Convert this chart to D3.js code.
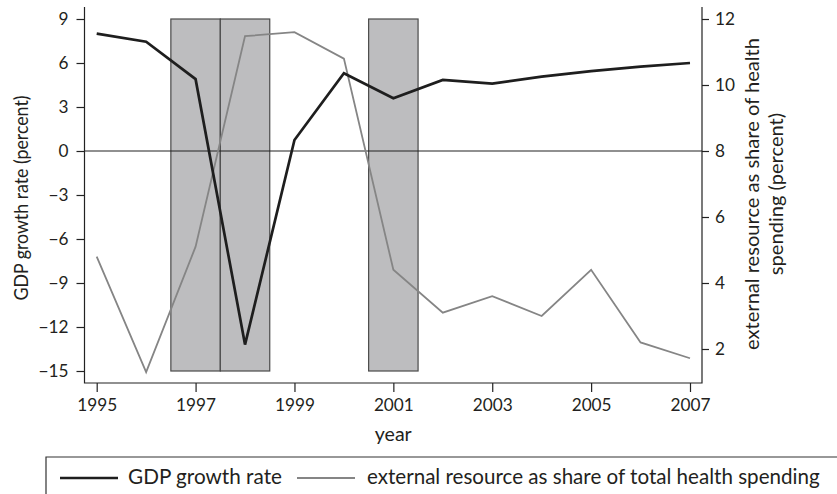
<!DOCTYPE html>
<html>
<head>
<meta charset="utf-8">
<script src="https://cdn.jsdelivr.net/npm/d3@7"></script>
<style>
  body { margin: 0; background: #fff; }
  svg text { font-family: "Lato", "Open Sans", sans-serif; fill: #231f20; }
</style>
</head>
<body>
<svg id="chart" width="837" height="494"></svg>
<script>
const years = [1995, 1996, 1997, 1998, 1999, 2000, 2001, 2002, 2003, 2004, 2005, 2006, 2007];
const gdpGrowth = [8.0, 7.45, 4.9, -13.2, 0.75, 5.3, 3.6, 4.85, 4.6, 5.07, 5.45, 5.75, 6.0];
const externalShare = [4.8, 1.3, 5.1, 11.48, 11.6, 10.8, 4.4, 3.1, 3.6, 3.0, 4.4, 2.2, 1.72];
const shadedPeriods = [[1996.5, 1997.5], [1997.5, 1998.5], [2000.5, 2001.5]];
const xTicks = [1995, 1997, 1999, 2001, 2003, 2005, 2007];
const leftTicks = [-15, -12, -9, -6, -3, 0, 3, 6, 9];
const rightTicks = [2, 4, 6, 8, 10, 12];
const legendLabels = ["GDP growth rate", "external resource as share of total health spending"];

const svg = d3.select("#chart");

// plot frame (axis lines run a bit past the data range)
const AX_LEFT = 84.5, AX_RIGHT = 702, AX_TOP = 7, AX_BOTTOM = 383;

const x = d3.scaleLinear().domain([1995, 2007]).range([96.7, 690]);
const yLeft = d3.scaleLinear().domain([-15, 9]).range([371, 19]);
const yRight = d3.scaleLinear().domain([4 / 3, 12]).range([371, 19]);

// size a text so its width matches the one measured on the reference
function fitFont(sel, target) {
  sel.style("font-size", "20px");
  const len = sel.node().getComputedTextLength();
  const size = (20 * target) / len;
  sel.style("font-size", size + "px");
  return size;
}

// shaded rectangles
svg.append("g")
  .selectAll("rect")
  .data(shadedPeriods)
  .enter()
  .append("rect")
  .attr("x", (d) => x(d[0]))
  .attr("width", (d) => x(d[1]) - x(d[0]))
  .attr("y", yLeft(9))
  .attr("height", yLeft(-15) - yLeft(9))
  .attr("fill", "#bdbdbf")
  .attr("stroke", "#4a4a4a")
  .attr("stroke-width", 1.2);

// zero line
svg.append("line")
  .attr("x1", AX_LEFT).attr("x2", AX_RIGHT)
  .attr("y1", yLeft(0)).attr("y2", yLeft(0))
  .attr("stroke", "#222").attr("stroke-width", 1.2);

// series lines
const extLine = d3.line().x((d, i) => x(years[i])).y((d) => yRight(d));
svg.append("path")
  .datum(externalShare)
  .attr("d", extLine)
  .attr("fill", "none")
  .attr("stroke", "#858585")
  .attr("stroke-width", 1.8);

const gdpLine = d3.line().x((d, i) => x(years[i])).y((d) => yLeft(d));
svg.append("path")
  .datum(gdpGrowth)
  .attr("d", gdpLine)
  .attr("fill", "none")
  .attr("stroke", "#1e1e1e")
  .attr("stroke-width", 2.7);

// axes
const probe = svg.append("text").text("1995");
const tickSize = fitFont(probe, 40);
probe.remove();

function styleAxis(g) {
  g.select(".domain").remove();
  g.selectAll(".tick line").attr("stroke", "#222").attr("stroke-width", 1.2);
  g.selectAll(".tick text").style("font-size", tickSize + "px").attr("fill", "#231f20");
}

svg.append("g")
  .attr("transform", `translate(0,${AX_BOTTOM})`)
  .call(d3.axisBottom(x).tickValues(xTicks).tickFormat(d3.format("d")).tickSize(9).tickPadding(7))
  .call(styleAxis);

svg.append("g")
  .attr("transform", `translate(${AX_LEFT},0)`)
  .call(d3.axisLeft(yLeft).tickValues(leftTicks).tickSize(8).tickPadding(8))
  .call(styleAxis);

svg.append("g")
  .attr("transform", `translate(${AX_RIGHT},0)`)
  .call(d3.axisRight(yRight).tickValues(rightTicks).tickSize(7).tickPadding(6))
  .call(styleAxis);

// axis lines
svg.append("path")
  .attr("d", `M${AX_LEFT},${AX_TOP}V${AX_BOTTOM}H${AX_RIGHT}V${AX_TOP}`)
  .attr("fill", "none")
  .attr("stroke", "#222")
  .attr("stroke-width", 1.2);

// axis titles (left one is set in a narrow face in the original, so squeeze it)
svg.append("text")
  .attr("transform", "translate(28,198) rotate(-90)")
  .attr("text-anchor", "middle")
  .style("font-size", "19px")
  .attr("textLength", 205)
  .attr("lengthAdjust", "spacingAndGlyphs")
  .text("GDP growth rate (percent)");

const rTitle = svg.append("text")
  .attr("transform", "translate(759,194) rotate(-90)")
  .attr("text-anchor", "middle");
const rLine1 = rTitle.append("tspan").attr("x", 0).attr("y", 0).text("external resource as share of health");
const rSize = fitFont(rLine1, 312);
rTitle.style("font-size", rSize + "px");
rTitle.append("tspan").attr("x", 0).attr("y", 24).text("spending (percent)");

const xTitle = svg.append("text")
  .attr("x", (AX_LEFT + AX_RIGHT) / 2)
  .attr("y", 441)
  .attr("text-anchor", "middle")
  .text("year");
fitFont(xTitle, 37);

// legend
svg.append("path")
  .attr("d", "M46,500V457H840")
  .attr("fill", "none")
  .attr("stroke", "#333")
  .attr("stroke-width", 1.2);

const legendItems = [
  { label: legendLabels[0], color: "#1e1e1e", width: 2.7, x1: 60, x2: 118, tx: 128, w: 154 },
  { label: legendLabels[1], color: "#858585", width: 1.8, x1: 297, x2: 355, tx: 367, w: 453 },
];
const lg = svg.append("g");
legendItems.forEach((d) => {
  lg.append("line")
    .attr("x1", d.x1).attr("x2", d.x2)
    .attr("y1", 478).attr("y2", 478)
    .attr("stroke", d.color).attr("stroke-width", d.width);
  const t = lg.append("text")
    .attr("x", d.tx).attr("y", 484)
    .text(d.label);
  fitFont(t, d.w);
});
</script>
</body>
</html>
